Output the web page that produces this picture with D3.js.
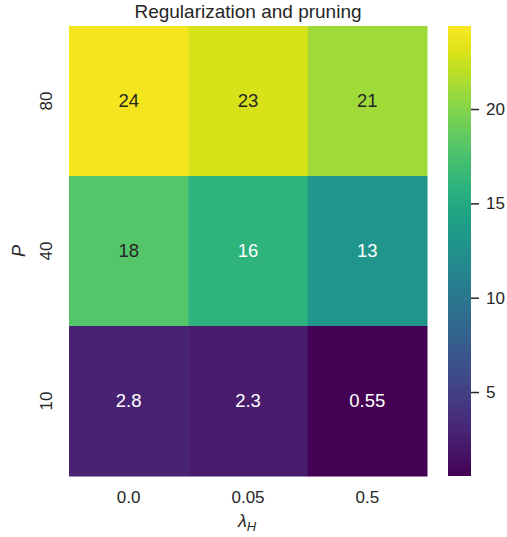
<!DOCTYPE html>
<html>
<head>
<meta charset="utf-8">
<script src="https://cdn.jsdelivr.net/npm/d3@7"></script>
<style>
  html, body { margin: 0; padding: 0; background: #fff; }
  svg { display: block; font-family: "Liberation Sans", Arial, sans-serif; }
</style>
</head>
<body>
<svg id="chart" width="507" height="537"></svg>
<script>
// Heatmap of scores over regularization strength and pruning level
const lambdas = ["0.0", "0.05", "0.5"];          // columns (λ_H)
const pLevels = ["80", "40", "10"];               // rows, top to bottom (P)
const row80 = [24, 23, 21];
const row40 = [18, 16, 13];
const row10 = [2.8, 2.3, 0.55];
const colorDomain = [0.55, 24.4];
const colorbarTicks = [5, 10, 15, 20];

const rows = [row80, row40, row10];
const cells = [];
rows.forEach((vals, ri) => vals.forEach((v, ci) => cells.push({ p: pLevels[ri], l: lambdas[ci], v })));

const svg = d3.select("#chart");
const m = { left: 69, top: 26, right: 427, bottom: 476 };
const ink = "#262626";

const x = d3.scaleBand().domain(lambdas).range([m.left, m.right]);
const y = d3.scaleBand().domain(pLevels).range([m.top, m.bottom]);
const color = d3.scaleSequential(d3.interpolateViridis).domain(colorDomain);

// cells
svg.append("g").selectAll("rect").data(cells).join("rect")
  .attr("x", d => x(d.l)).attr("y", d => y(d.p))
  .attr("width", x.bandwidth() + 0.5).attr("height", y.bandwidth() + 0.5)
  .attr("fill", d => color(d.v));

// annotations: dark text on light cells, white on dark cells
function lum(c) {
  const rgb = d3.rgb(c);
  const f = u => { u /= 255; return u <= 0.03928 ? u / 12.92 : Math.pow((u + 0.055) / 1.055, 2.4); };
  return 0.2126 * f(rgb.r) + 0.7152 * f(rgb.g) + 0.0722 * f(rgb.b);
}
const fmt = v => d3.format(".2~g")(v);
svg.append("g").selectAll("text").data(cells).join("text")
  .attr("x", d => x(d.l) + x.bandwidth() / 2)
  .attr("y", d => y(d.p) + y.bandwidth() / 2 + 5.5)
  .attr("text-anchor", "middle")
  .attr("font-size", 18.5)
  .attr("fill", d => lum(color(d.v)) > 0.408 ? ink : "#ffffff")
  .text(d => fmt(d.v));

// x tick labels
svg.append("g").selectAll("text").data(lambdas).join("text")
  .attr("x", d => x(d) + x.bandwidth() / 2).attr("y", 503)
  .attr("text-anchor", "middle").attr("font-size", 17).attr("fill", ink)
  .text(d => d);

// y tick labels (rotated)
svg.append("g").selectAll("text").data(pLevels).join("text")
  .attr("transform", d => `translate(52,${y(d) + y.bandwidth() / 2}) rotate(-90)`)
  .attr("text-anchor", "middle").attr("font-size", 17).attr("fill", ink)
  .text(d => d);

// axis titles
const xl = svg.append("text").attr("x", (m.left + m.right) / 2 - 1).attr("y", 527)
  .attr("text-anchor", "middle").attr("font-size", 18).attr("fill", ink);
xl.append("tspan").attr("font-style", "italic").text("λ");
xl.append("tspan").attr("font-style", "italic").attr("font-size", 13).attr("dy", 4).text("H");

svg.append("text")
  .attr("transform", `translate(25,${(m.top + m.bottom) / 2}) rotate(-90)`)
  .attr("text-anchor", "middle").attr("font-size", 18).attr("font-style", "italic")
  .attr("fill", ink).text("P");

// title
svg.append("text").attr("x", (m.left + m.right) / 2).attr("y", 18)
  .attr("text-anchor", "middle").attr("font-size", 19).attr("fill", ink)
  .text("Regularization and pruning");

// colorbar
const cb = { x: 448, w: 23 };
const cy = d3.scaleLinear().domain(colorDomain).range([m.bottom, m.top]);
const defs = svg.append("defs");
const grad = defs.append("linearGradient").attr("id", "cbgrad")
  .attr("x1", 0).attr("y1", 1).attr("x2", 0).attr("y2", 0);
d3.range(0, 1.0001, 0.05).forEach(t => {
  grad.append("stop").attr("offset", t)
    .attr("stop-color", color(colorDomain[0] + t * (colorDomain[1] - colorDomain[0])));
});
svg.append("rect").attr("x", cb.x).attr("y", m.top)
  .attr("width", cb.w).attr("height", m.bottom - m.top).attr("fill", "url(#cbgrad)");

const cbAxis = svg.append("g").attr("transform", `translate(${cb.x + cb.w},0)`)
  .call(d3.axisRight(cy).tickValues(colorbarTicks).tickSize(8).tickPadding(7));
cbAxis.select(".domain").remove();
cbAxis.selectAll("line").attr("stroke", ink).attr("stroke-width", 1.5);
cbAxis.selectAll("text").attr("font-size", 17).attr("fill", ink)
  .attr("font-family", "Liberation Sans, Arial, sans-serif");
</script>
</body>
</html>
